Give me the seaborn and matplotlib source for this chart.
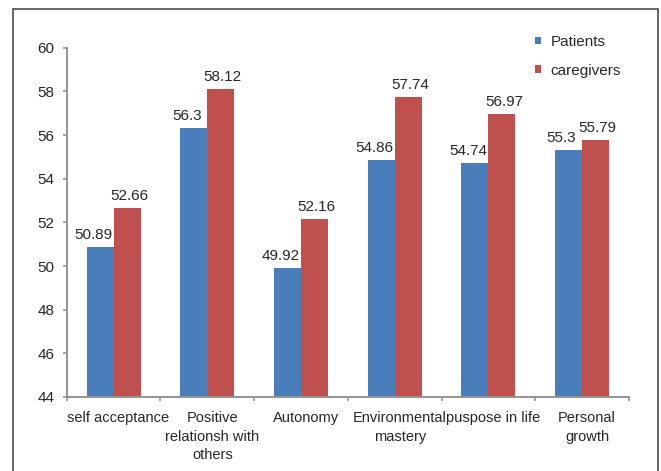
import matplotlib
matplotlib.use("Agg")
import matplotlib.pyplot as plt
from matplotlib.patches import Rectangle
from matplotlib.transforms import ScaledTranslation
import seaborn as sns
import pandas as pd
import numpy as np

categories = ["self acceptance", "Positive\nrelationsh with\nothers", "Autonomy",
              "Environmental\nmastery", "puspose in life", "Personal\ngrowth"]
patients = [50.89, 56.3, 49.92, 54.86, 54.74, 55.3]
caregivers = [52.66, 58.12, 52.16, 57.74, 56.97, 55.79]
series = ["Patients", "caregivers"]
colors = ["#4A7EBB", "#C0504D"]

sns.set_theme(style="white")
plt.rcParams["font.family"] = ["Liberation Sans", "DejaVu Sans"]

df = pd.DataFrame({
    "category": categories * 2,
    "group": [series[0]] * 6 + [series[1]] * 6,
    "value": patients + caregivers,
})

W, H = 661, 471
CFS = 10.5   # category labels
VFS = 11     # value labels, y ticks, legend
TXT = "#262626"
AXC = "#949494"

fig = plt.figure(figsize=(W / 100, H / 100), dpi=100)
ax = fig.add_axes([66.7 / W, 1 - 397 / H, (629 - 66.7) / W, (397 - 47.7) / H])

sns.barplot(data=df, x="category", y="value", hue="group", palette=colors,
            width=0.577, ax=ax, saturation=1, legend=True, edgecolor="none")

ax.set_ylim(44, 60)
ax.set_xlim(-0.5, 5.5)
ax.set_yticks(np.arange(44, 61, 2))
ax.set_xlabel("")
ax.set_ylabel("")

# value labels above each bar, nudged sideways so neighbours do not collide
for cont, vals, dx in zip(ax.containers, [patients, caregivers], [-7, 2]):
    for rect, v in zip(cont, vals):
        ax.annotate(f"{v:g}", (rect.get_x() + rect.get_width() / 2, rect.get_height()),
                    xytext=(dx, 5), textcoords="offset pixels",
                    ha="center", va="bottom", fontsize=VFS, color=TXT)

for s in ["top", "right"]:
    ax.spines[s].set_visible(False)
for s in ["left", "bottom"]:
    ax.spines[s].set_color(AXC)
    ax.spines[s].set_linewidth(1.4)

ax.tick_params(axis="y", which="major", left=True, length=3, width=1.2, color=AXC,
               labelsize=VFS, labelcolor=TXT, pad=6)
ax.set_xticks(np.arange(6))
ax.set_xticklabels(categories, fontsize=CFS, color=TXT, linespacing=1.39)
ax.tick_params(axis="x", which="major", bottom=False, length=0, pad=10.3)
ax.set_xticks(np.arange(-0.5, 6, 1), minor=True)
ax.tick_params(axis="x", which="minor", bottom=True, length=3, width=1.2, color=AXC)
shift = ScaledTranslation(5 / 100, 0, fig.dpi_scale_trans)
for lab in ax.get_xticklabels():
    lab.set_transform(lab.get_transform() + shift)

leg = ax.legend(loc="upper left", bbox_to_anchor=(535 / W, 1 - 35 / H),
                bbox_transform=fig.transFigure, frameon=False, fontsize=VFS,
                handlelength=0.4, handleheight=0.4, handletextpad=0.6,
                labelspacing=0.95, borderpad=0, borderaxespad=0)
for t in leg.get_texts():
    t.set_color(TXT)

fig.patches.append(Rectangle((13 / W, -0.05), (658 - 13) / W, 1.05 - 9 / H,
                             transform=fig.transFigure, fill=False,
                             edgecolor="#4d4d4d", linewidth=1.2))

fig.savefig("out.png", dpi=100)
